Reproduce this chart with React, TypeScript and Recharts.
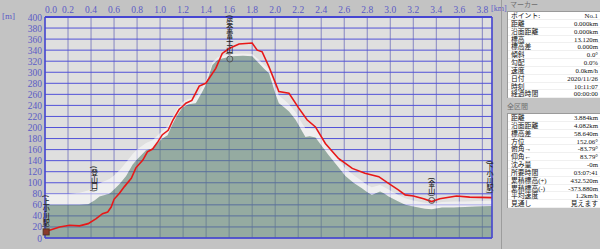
import { ComposedChart, Area, Line, XAxis, YAxis, CartesianGrid, ReferenceLine, ReferenceDot } from 'recharts';

// terrain profile under the route [km, m]
const groundKm = [0, 0.1, 0.2, 0.3, 0.375, 0.43, 0.474, 0.52, 0.56, 0.6, 0.65, 0.705, 0.762, 0.8, 0.878, 0.935, 0.98, 1.02, 1.065, 1.11, 1.15, 1.195, 1.25, 1.31, 1.36, 1.397, 1.455, 1.5, 1.54, 1.627, 1.72, 1.8, 1.86, 1.91, 1.946, 1.974, 2.0, 2.032, 2.08, 2.12, 2.177, 2.22, 2.263, 2.3, 2.35, 2.4, 2.465, 2.53, 2.61, 2.68, 2.753, 2.8, 2.84, 2.912, 2.95, 2.985, 3.07, 3.13, 3.2, 3.3, 3.36, 3.45, 3.55, 3.65, 3.75, 3.884];
const groundM = [60, 60, 60, 60, 61, 68, 75, 78, 80, 88, 98, 112, 133, 142, 159, 162, 172, 180, 186, 207, 222, 236, 242, 244, 262, 277, 313, 322, 325, 329, 330, 329, 316, 305, 298, 280, 262, 244, 236, 229, 214, 198, 183, 184, 182, 168, 150, 133, 112, 100, 90, 83, 78, 84, 80, 75, 66, 60, 57, 53, 52, 55, 55, 56, 57, 58];
// pale band above the terrain
const shadeM = [80, 80, 80, 82, 86, 93, 99, 103, 107, 113, 123, 137, 152, 160, 172, 177, 186, 194, 202, 220, 234, 246, 252, 254, 270, 284, 318, 327, 330, 333, 334, 333, 322, 312, 306, 290, 274, 258, 250, 242, 228, 212, 198, 198, 196, 183, 165, 148, 126, 114, 103, 96, 92, 96, 92, 88, 78, 72, 68, 64, 62, 65, 66, 66, 67, 68];

// GPS track
const trackKm = [0, 0.04, 0.127, 0.214, 0.3, 0.375, 0.445, 0.5, 0.545, 0.575, 0.6, 0.647, 0.69, 0.75, 0.79, 0.85, 0.89, 0.935, 0.98, 1.02, 1.07, 1.11, 1.166, 1.195, 1.224, 1.276, 1.34, 1.397, 1.484, 1.54, 1.6, 1.686, 1.8, 1.844, 1.887, 1.946, 2.032, 2.12, 2.205, 2.277, 2.35, 2.436, 2.55, 2.67, 2.78, 2.9, 2.985, 3.07, 3.13, 3.201, 3.29, 3.36, 3.43, 3.576, 3.69, 3.884];
const trackM = [13, 14, 20, 23, 22, 26, 35, 44, 47, 56, 70, 81, 93, 108, 127, 141, 156, 161, 174, 187, 195, 213, 233, 238, 244, 249, 275, 280, 307, 334, 343, 351, 353, 340, 337, 310, 265, 262, 235, 214, 201, 171, 144, 126, 117, 111, 99, 87, 78, 76, 71, 66, 71, 76, 74, 73];

const markerNames = ['(上小川駅)', '(登山口)', '(盛金富士山)', '(金山)', '(下小川駅)'];
const markerKm = [0.01, 0.43, 1.606, 3.36, 3.867];
const markerM = [11, 76, 324, 68, 73];
const markerIcon = ['square', 'none', 'circle', 'circle', 'none'];

const xTicks = [0, 0.2, 0.4, 0.6, 0.8, 1.0, 1.2, 1.4, 1.6, 1.8, 2.0, 2.2, 2.4, 2.6, 2.8, 3.0, 3.2, 3.4, 3.6, 3.8];
const yTicks = [0, 20, 40, 60, 80, 100, 120, 140, 160, 180, 200, 220, 240, 260, 280, 300, 320, 340, 360, 380, 400];

const markerLabels = ['ポイント:', '距離', '沿面距離', '標高', '標高差', '傾斜', '勾配', '速度', '日付', '時刻', '経過時間'];
const markerValues = ['No.1', '0.000km', '0.000km', '13.120m', '0.000m', '0.0°', '0.0%', '0.0km/h', '2020/11/26', '10:11:07', '00:00:00'];
const totalLabels = ['距離', '沿面距離', '標高差', '方位', '俯角→', '仰角←', '沈み量', '所要時間', '累積標高(+)', '累積標高(-)', '平均速度', '見通し'];
const totalValues = ['3.884km', '4.082km', '58.640m', '152.06°', '-83.79°', '83.79°', '-0m', '03:07:41', '432.520m', '-373.880m', '1.2km/h', '見えます'];

const AXIS_BLUE = '#5b5bc6';
const SERIF = '"Liberation Serif", "DejaVu Serif", serif';
const JP = '"Noto Sans CJK JP", sans-serif';
const PANEL_FONT = '"Liberation Serif", "Noto Sans CJK JP", serif';

const groundData = groundKm.map((km, i) => ({ km, ground: groundM[i], shade: [groundM[i], shadeM[i]] }));
const trackData = trackKm.map((km, i) => ({ km, track: trackM[i] }));

function XTick(props: any) {
  const { x, y, payload } = props;
  const dx = payload.value === 0 ? 6 : 0;
  return (
    <text x={x + dx} y={y} textAnchor="middle" fill={AXIS_BLUE} fontSize={9.5} fontFamily={SERIF}>
      {Number(payload.value).toFixed(1)}
    </text>
  );
}

function YTick(props: any) {
  const { x, y, payload } = props;
  return (
    <text x={x} y={y + 3.5} textAnchor="end" fill={AXIS_BLUE} fontSize={9.5} fontFamily={SERIF}>
      {payload.value}
    </text>
  );
}

function markerShape(name: string, icon: string) {
  return (props: any) => {
    const { cx, cy } = props;
    return (
      <g>
        <text
          x={cx}
          y={cy - 4}
          textAnchor="end"
          fontSize={7}
          fontFamily={JP}
          fontWeight={500}
          fill="#222"
          style={{ writingMode: 'vertical-rl' }}
        >
          {name}
        </text>
        {icon === 'square' && <rect x={cx - 3} y={cy - 3} width={6} height={6} fill="#8a3a2a" stroke="#553322" />}
        {icon === 'circle' && <circle cx={cx} cy={cy} r={3} fill="none" stroke="#555" />}
      </g>
    );
  };
}

function InfoTable({ labels, values, top }: { labels: string[]; values: string[]; top: number }) {
  return (
    <div style={{ position: 'absolute', left: 5, top, width: 93, background: '#fff', borderTop: '1px solid #9a9a9a', borderLeft: '1px solid #9a9a9a' }}>
      {labels.map((l, i) => (
        <div key={l + i} style={{ position: 'relative', height: 7.85, borderBottom: '1px solid #f0f0f0', boxSizing: 'border-box' }}>
          <span style={{ position: 'absolute', left: 3, top: 0, lineHeight: '7.8px', whiteSpace: 'nowrap' }}>{l}</span>
          <span style={{ position: 'absolute', right: 3, top: 0, lineHeight: '7.8px', whiteSpace: 'nowrap' }}>{values[i]}</span>
        </div>
      ))}
    </div>
  );
}

export default function App() {
  return (
    <div style={{ position: 'absolute', left: 0, top: 0, width: 600, height: 249, background: '#c3c3c3', overflow: 'hidden' }}>
      <div style={{ position: 'absolute', left: 2, top: 11, fontSize: 9, fontFamily: SERIF, color: AXIS_BLUE }}>[m]</div>
      <div style={{ position: 'absolute', left: 491, top: 4, fontSize: 8, fontFamily: SERIF, color: AXIS_BLUE }}>[km]</div>
      <ComposedChart width={500} height={249} data={groundData} margin={{ top: 0, right: 8, bottom: 11, left: 0 }}>
        <XAxis
          dataKey="km"
          type="number"
          orientation="top"
          domain={[0, 3.884]}
          ticks={xTicks}
          interval={0}
          height={17}
          tickSize={0}
          tickMargin={4}
          tick={<XTick />}
          axisLine={{ stroke: '#4646d2', strokeWidth: 2 }}
          allowDataOverflow
        />
        <YAxis
          type="number"
          domain={[0, 400]}
          ticks={yTicks}
          width={45}
          tickSize={0}
          tickMargin={3}
          tick={<YTick />}
          axisLine={{ stroke: '#4646d2', strokeWidth: 1.5 }}
          interval={0}
        />
        <CartesianGrid horizontal={false} vertical stroke="#8585c2" strokeWidth={1} fill="#dfdfdf" />
        <CartesianGrid horizontal vertical={false} stroke="#5252d8" strokeWidth={1} />
        <Area type="linear" dataKey="shade" stroke="none" fill="#ffffff" fillOpacity={0.5} isAnimationActive={false} />
        <Area type="linear" dataKey="ground" stroke="none" fill="#5f8573" fillOpacity={0.58} isAnimationActive={false} />
        <Line data={trackData} type="linear" dataKey="track" stroke="#e81818" strokeWidth={1.6} dot={false} isAnimationActive={false} />
        <ReferenceLine x={3.884} stroke="#4646d2" strokeWidth={1.5} ifOverflow="visible" />
        <ReferenceLine y={0} stroke="#4646d2" strokeWidth={1.5} />
        {markerNames.map((n, i) => (
          <ReferenceDot key={n} x={markerKm[i]} y={markerM[i]} r={3} ifOverflow="visible" shape={markerShape(n, markerIcon[i])} />
        ))}
      </ComposedChart>
      <div style={{ position: 'absolute', left: 501, top: 0, width: 1, height: 249, background: '#9c9c9c' }} />
      <div style={{ position: 'absolute', left: 502, top: 0, width: 98, height: 249, fontFamily: PANEL_FONT, fontSize: 6.8, color: '#111' }}>
        <div style={{ position: 'absolute', left: 8, top: 0, color: '#6e6e6e', fontSize: 7, lineHeight: '9px', fontFamily: JP }}>マーカー</div>
        <InfoTable labels={markerLabels} values={markerValues} top={11} />
        <div style={{ position: 'absolute', left: 5, top: 102, color: '#6e6e6e', fontSize: 7, lineHeight: '9px', fontFamily: JP }}>全区間</div>
        <InfoTable labels={totalLabels} values={totalValues} top={113} />
      </div>
    </div>
  );
}
